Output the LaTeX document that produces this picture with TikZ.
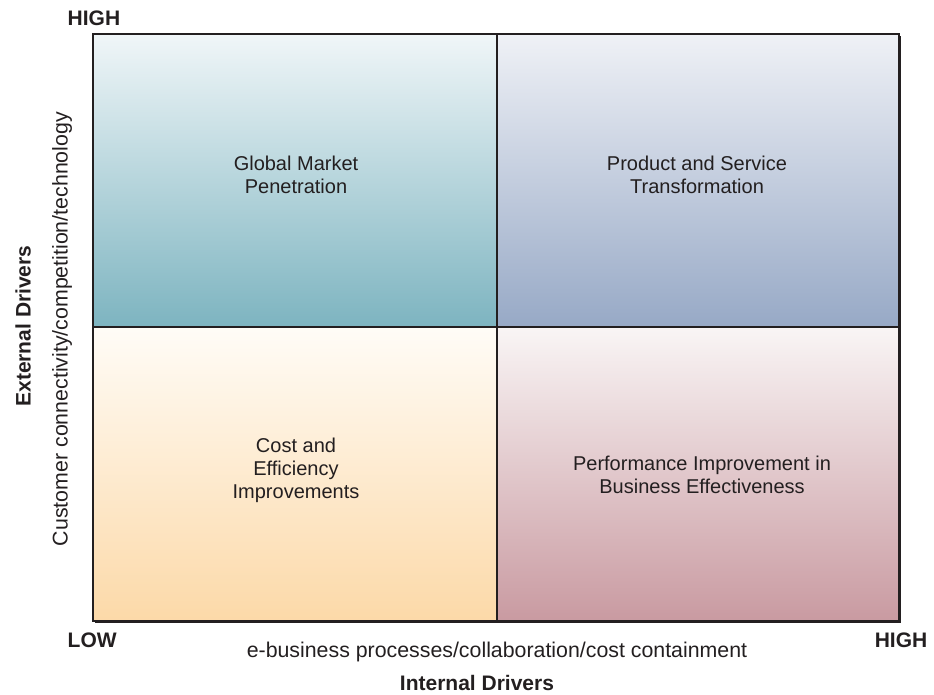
\documentclass[tikz,border=0pt]{standalone}
\usepackage{fontspec}
\setmainfont{Liberation Sans}
\definecolor{ink}{HTML}{231F20}
\definecolor{tlTop}{HTML}{F0F6F8}
\definecolor{tlBot}{HTML}{7DB4C0}
\definecolor{trTop}{HTML}{EFF1F6}
\definecolor{trBot}{HTML}{97A9C6}
\definecolor{blTop}{HTML}{FFFCF7}
\definecolor{blBot}{HTML}{FCD9A8}
\definecolor{brTop}{HTML}{F9F5F5}
\definecolor{brBot}{HTML}{C99AA1}
\tikzset{
  body/.style={font=\fontsize{15}{17.25}\selectfont, text=ink, align=center},
  axistext/.style={font=\fontsize{16}{18}\selectfont, text=ink},
  boldlab/.style={font=\fontsize{15.75}{18}\selectfont\bfseries, text=ink},
  divider/.style={draw=ink, line width=1.4pt},
}
\begin{document}
\begin{tikzpicture}[x=0.75pt,y=-0.75pt]
\useasboundingbox (0,0) rectangle (934,694);
% shadow
\fill[ink] (95,36) rectangle (901,623);
% quadrants
\shade[top color=tlTop, bottom color=tlBot] (93,34) rectangle (497,327);
\shade[top color=trTop, bottom color=trBot] (497,34) rectangle (899,327);
\shade[top color=blTop, bottom color=blBot] (93,327) rectangle (497,621);
\shade[top color=brTop, bottom color=brBot] (497,327) rectangle (899,621);
% frame and dividers
\draw[ink, line width=0.9pt] (93,34) rectangle (899,621);
\draw[divider] (497,34) -- (497,621);
\draw[divider] (93,327) -- (899,327);
% quadrant labels
\node[body] (gmp) at (296,175) {Global Market\\Penetration};
\node[body] (pst) at (697,175) {Product and Service\\Transformation};
\node[body] (cei) at (296,470) {Cost and\\Efficiency\\Improvements};
\node[body] (pib) at (702,475) {Performance Improvement in\\Business Effectiveness};
% axes labels
\node[boldlab, anchor=west] (hightop) at (63,18) {HIGH};
\node[boldlab, anchor=west] (low) at (63,640) {LOW};
\node[boldlab, anchor=east] (highright) at (932,640) {HIGH};
\node[axistext] (xaxis) at (497,652) {e-business processes/collaboration/cost containment};
\node[boldlab] (internal) at (477,683) {Internal Drivers};
\node[boldlab, rotate=90] (external) at (23,326) {External Drivers};
\node[axistext, rotate=90] (yaxis) at (62,329) {Customer connectivity/competition/technology};
\end{tikzpicture}
\end{document}
